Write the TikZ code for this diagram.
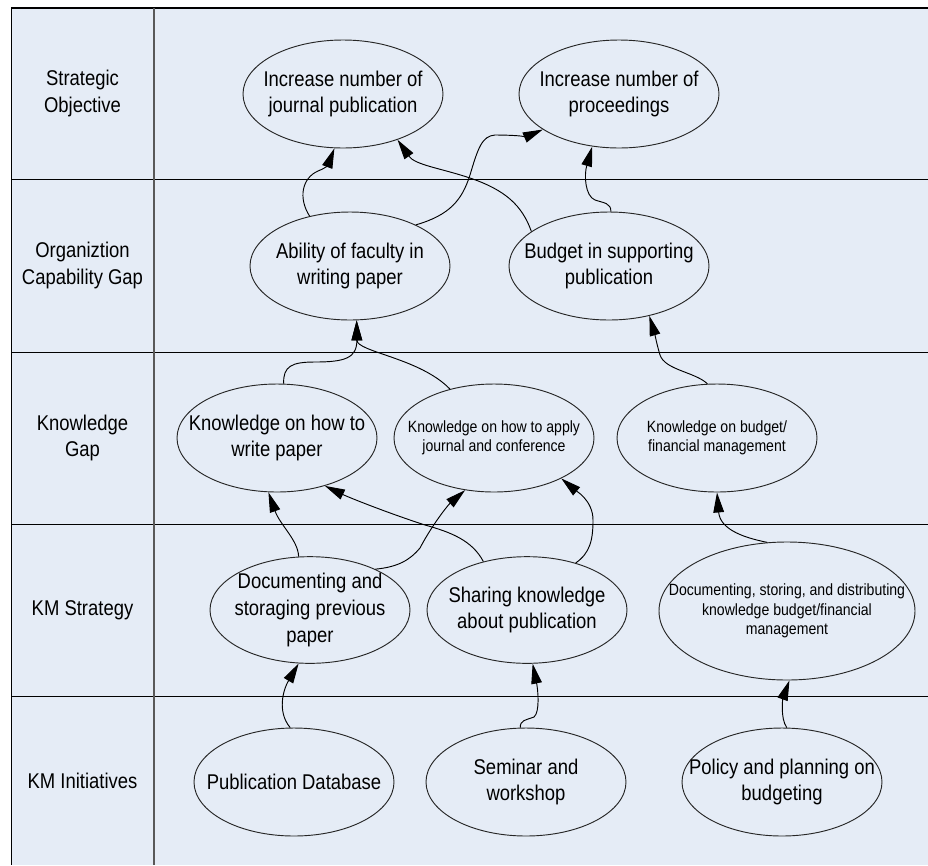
\documentclass[tikz,border=0pt]{standalone}
\usepackage{fontspec}
\setmainfont{Liberation Sans}
\newfontfamily\nf[FakeStretch=0.865]{Liberation Sans}
\usetikzlibrary{shapes.geometric,arrows.meta}
\definecolor{bgblue}{RGB}{229,236,246}
\begin{document}
\begin{tikzpicture}[x=0.75pt,y=-0.75pt,
  ell/.style={ellipse, draw=black!85, line width=0.7pt, minimum width=150pt, minimum height=81pt, inner sep=0pt},
  big/.style={font=\nf\fontsize{16}{20}\selectfont, align=center, inner sep=0pt},
  small/.style={font=\nf\fontsize{12.2}{14.5}\selectfont, align=center, inner sep=0pt},
  lab/.style={font=\nf\fontsize{16}{20}\selectfont, align=center, inner sep=0pt},
  conn/.style={line width=0.7pt, -{Triangle[length=15pt,width=8pt]}}]
\useasboundingbox (0,0) rectangle (928,865);
% lanes
\fill[bgblue] (11.7,8) rectangle (928,865);
\draw[line width=0.9pt] (928,8) -- (11.7,8) -- (11.7,865);
\foreach \yy in {179,352.5,524,696} \draw[line width=0.75pt] (11.7,\yy) -- (928,\yy);
\draw[line width=0.9pt, black!65] (154,8) -- (154,865);
% lane labels
\node[lab] (l1) at (82.5,93.5) {Strategic\\Objective};
\node[lab] (l2) at (82.5,265.5) {Organiztion\\Capability Gap};
\node[lab] (l3) at (82.5,438) {Knowledge\\Gap};
\node[lab] (l4) at (82.5,610) {KM Strategy};
\node[lab] (l5) at (82.5,781) {KM Initiatives};
% ellipses
\node[ell] (so1) at (343,94) {};
\node[ell] (so2) at (619,94) {};
\node[ell] (ab) at (350,266) {};
\node[ell] (bu) at (609,266) {};
\node[ell] (kw) at (277,438) {};
\node[ell] (ka) at (494,438) {};
\node[ell] (kb) at (717,438) {};
\node[ell, minimum height=80pt] (dc) at (310,610) {};
\node[ell, minimum height=80pt] (sh) at (527,610) {};
\node[ell, minimum width=192pt, minimum height=103.5pt] (ds) at (787,611) {};
\node[ell] (pd) at (294,782) {};
\node[ell] (se) at (526,782) {};
\node[ell] (po) at (782,782) {};
% texts
\node[big] (so1t) at (so1) {Increase number of\\journal publication};
\node[big] (so2t) at (so2) {Increase number of\\proceedings};
\node[big] (abt) at (ab) {Ability of faculty in\\writing paper};
\node[big] (but) at (bu) {Budget in supporting\\publication};
\node[big] (kwt) at (kw) {Knowledge on how to\\write paper};
\node[small] (kat) at (ka) {Knowledge on how to apply\\journal and conference};
\node[small] (kbt) at (kb) {Knowledge on budget/\\financial management};
\node[big] (dct) at (dc) {Documenting and\\storaging previous\\paper};
\node[big] (sht) at (sh) {Sharing knowledge\\about publication};
\node[small] (dst) at (ds) {Documenting, storing, and distributing\\knowledge budget/financial\\management};
\node[big] (pdt) at (pd) {Publication Database};
\node[big] (set) at (se) {Seminar and\\workshop};
\node[big] (pot) at (po) {Policy and planning on\\budgeting};
% connectors
\draw[conn] (ab.129) .. controls (298,198) and (302,178) .. (318,171) .. controls (324,169) and (328,165) .. (so1.261);
\draw[conn] (ab.32) .. controls (450,215) and (462,200) .. (470,175) .. controls (478,148) and (482,136) .. (495,135) .. controls (510,135) and (528,136) .. (so2.205);
\draw[conn] (bu.156) .. controls (522,205) and (505,190) .. (470,178) .. controls (440,168) and (415,165) .. (so1.320);
\draw[conn] (bu.88) .. controls (611,203) and (604,203) .. (595,200) .. controls (585,196) and (584,175) .. (so2.243);
\draw[conn] (kw.83) .. controls (283,366) and (292,362) .. (315,362) .. controls (345,362) and (357,358) .. (ab.277);
\draw[conn] (ka.132) .. controls (420,358) and (357,352) .. (ab.277);
\draw[conn] (kb.100) .. controls (695,372) and (665,370) .. (660,355) .. controls (657,345) and (655,335) .. (bu.309);
\draw[conn] (dc.102) .. controls (298,540) and (280,525) .. (kw.261);
\draw[conn] (dc.32) .. controls (398,567) and (410,560) .. (420,548) .. controls (432,525) and (448,505) .. (ka.241);
\draw[conn] (sh.132) .. controls (472,540) and (450,532) .. (425,525) .. controls (385,512) and (348,497) .. (kw.315);
\draw[conn] (sh.44) .. controls (590,553) and (593,540) .. (593,520) .. controls (593,500) and (575,490) .. (ka.329);
\draw[conn] (ds.106) .. controls (740,537) and (720,528) .. (kb.270);
\draw[conn] (pd.94) .. controls (277,712) and (283,690) .. (dc.258);
\draw[conn] (se.96) .. controls (520,720) and (526,720) .. (534,717) .. controls (540,712) and (538,690) .. (sh.276);
\draw[conn] (po.85) .. controls (780,718) and (783,698) .. (ds.272);
\end{tikzpicture}
\end{document}
